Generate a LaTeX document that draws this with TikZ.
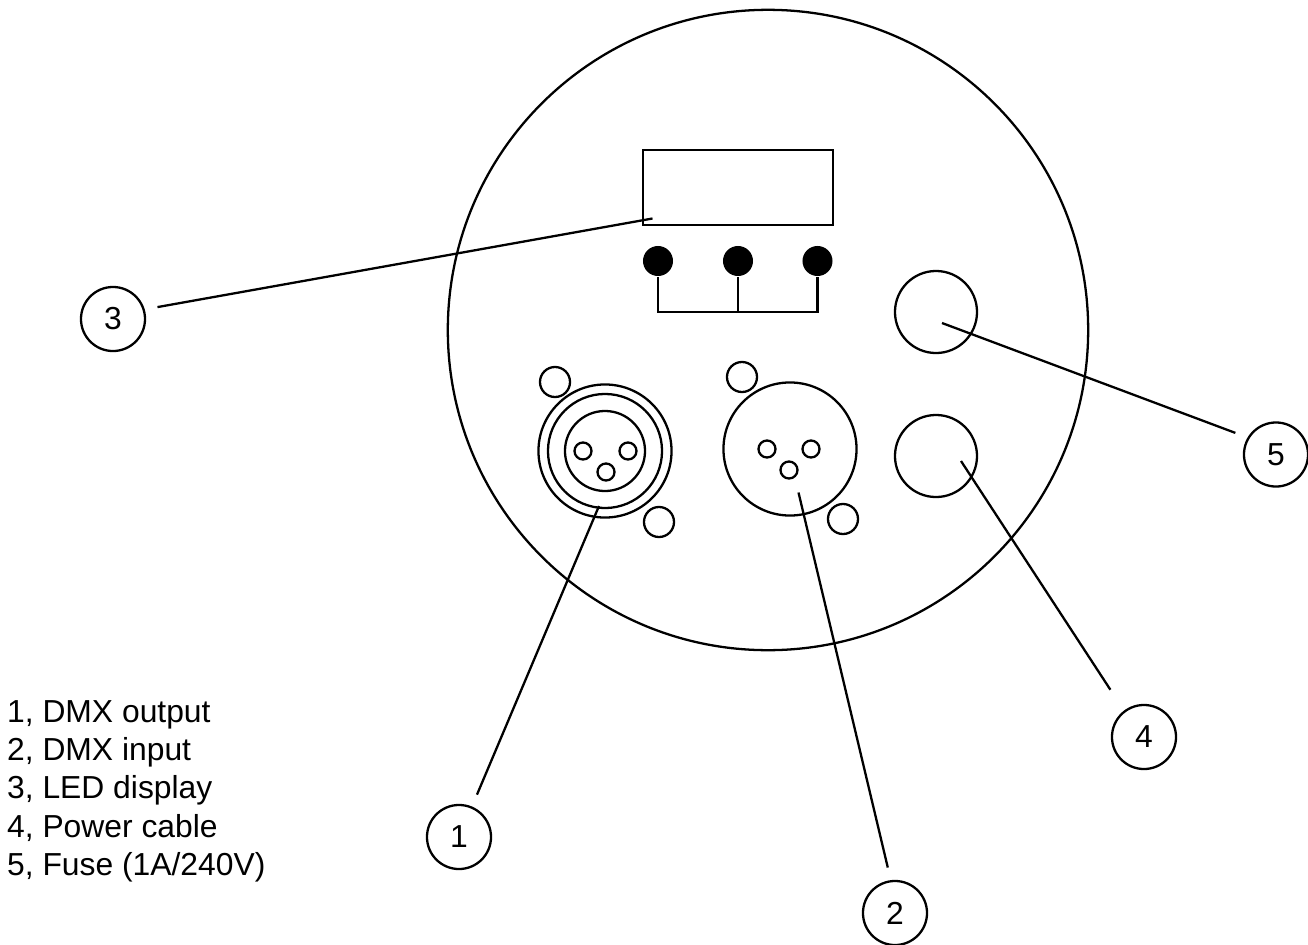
\documentclass[tikz,border=0pt]{standalone}
\usepackage{fontspec}
\setmainfont{Liberation Sans}
\usepackage{xcolor}
\usetikzlibrary{positioning}
\tikzset{
  hole/.style={circle, draw, line width=0.65pt, inner sep=0pt, minimum size=#1},
  knob/.style={circle, fill=black, inner sep=0pt, minimum size=0.3cm},
  callout/.style={circle, draw, line width=0.65pt, inner sep=0pt, minimum size=0.64cm, outer sep=0.14cm, font=\fontsize{9.05}{10}\selectfont},
  legend/.style={anchor=base west, inner sep=0pt, font=\fontsize{9.05}{10}\selectfont},
  leader/.style={line width=0.65pt}
}
\begin{document}
\begin{tikzpicture}[x=0.01cm, y=-0.01cm, line width=0.65pt]

\useasboundingbox (0,0) rectangle (1308,945);

% Housing
\node[hole=6.4cm] (housing) at (768,330) {};

% LED display and the three buttons
\node[draw, line width=0.65pt, minimum width=1.9cm, minimum height=0.75cm, inner sep=0pt] (display) at (738,187.5) {};
\coordinate (displayend) at (652.5,218.5);
\node[knob] (knoba) at (658,261) {};
\node[knob] (knobb) at (738,261) {};
\node[knob] (knobc) at (817.5,261) {};
\draw (knoba) |- (knobc |- 0,312) -- (knobc);
\draw (knobb) -- (knobb |- 0,312);

% DMX output
\node[hole=1.33cm] (outa) at (605,451) {};
\node[hole=1.14cm] (outb) at (605,451) {};
\node[hole=0.80cm] (outc) at (605,451) {};
\node[hole=0.17cm] (outpina) at (583,451) {};
\node[hole=0.17cm] (outpinb) at (628,451) {};
\node[hole=0.17cm] (outpinc) at (606,472) {};
\node[hole=0.30cm] (outscrewa) at (555,382) {};
\node[hole=0.30cm] (outscrewb) at (659,522) {};
\coordinate (outend) at (599,506);

% DMX input
\node[hole=1.33cm] (ina) at (790,449) {};
\node[hole=0.17cm] (inpina) at (767,449) {};
\node[hole=0.17cm] (inpinb) at (811,449) {};
\node[hole=0.17cm] (inpinc) at (789,470) {};
\node[hole=0.30cm] (inscrewa) at (742,377) {};
\node[hole=0.30cm] (inscrewb) at (843,519) {};
\coordinate (inend) at (798.5,492.5);

% Fuse and power cable
\node[hole=0.82cm] (fuse) at (936,312) {};
\node[hole=0.82cm] (power) at (936,456) {};
\coordinate (fuseend) at (942,323);
\coordinate (powerend) at (961,461);

% Numbered callouts
\node[callout] (one) at (459,837) {1};
\node[callout] (two) at (895,913) {2};
\node[callout] (three) at (113,319) {3};
\node[callout] (four) at (1144,737) {4};
\node[callout] (five) at (1276,454.5) {5};

\draw[leader] (one.67) -- (outend);
\draw[leader] (two.99) -- (inend);
\draw[leader] (three.15) -- (displayend);
\draw[leader, shorten <=0.12cm] (four.126) -- (powerend);
\draw[leader] (five.152) -- (fuseend);

% Legend
\node[legend] (leg1) at (6,722) {1, DMX output};
\node[legend] (leg2) at (6,760) {2, DMX input};
\node[legend] (leg3) at (6,798.5) {3, LED display};
\node[legend] (leg4) at (6,837) {4, Power cable};
\node[legend] (leg5) at (6,875) {5, Fuse (1A/240V)};

\end{tikzpicture}
\end{document}
